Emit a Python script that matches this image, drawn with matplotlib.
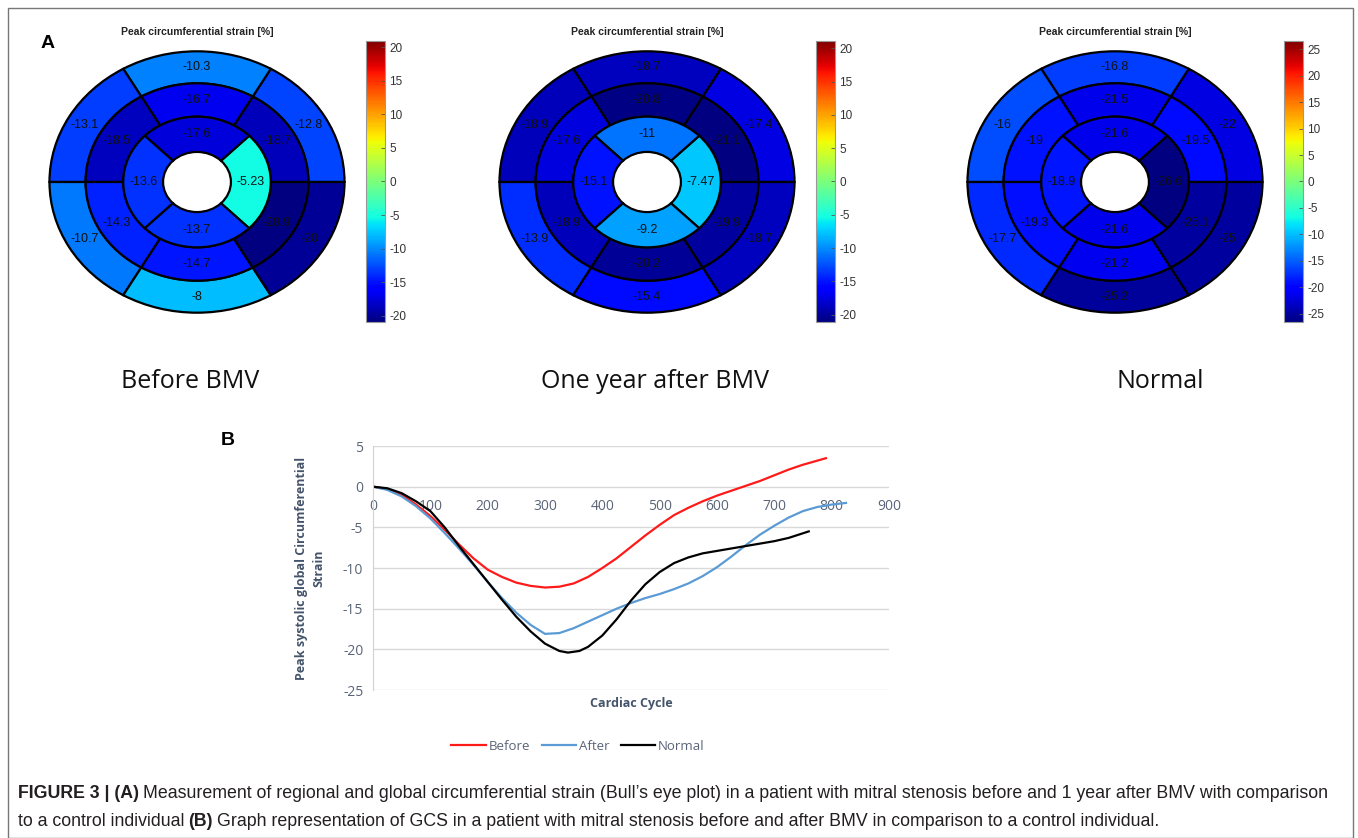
import numpy as np
import matplotlib.pyplot as plt
from matplotlib import cm, colors
from matplotlib.patches import Wedge, Rectangle

plt.rcParams['font.family'] = ['Liberation Sans', 'DejaVu Sans']
plt.rcParams['axes.unicode_minus'] = False

W, H = 1358, 838

# bull's eye values, segments counter-clockwise starting at 3 o'clock
# outer / mid rings: [upper-right, top, upper-left, lower-left, bottom, lower-right]
# inner ring: [right, top, left, bottom]
before_outer = [-12.8, -10.3, -13.1, -10.7, -8, -20]
before_mid = [-18.7, -16.7, -18.5, -14.3, -14.7, -20.9]
before_inner = [-5.23, -17.6, -13.6, -13.7]

after_outer = [-17.4, -18.7, -18.9, -13.9, -15.4, -18.7]
after_mid = [-21.1, -20.8, -17.6, -18.9, -20.2, -19.9]
after_inner = [-7.47, -11, -15.1, -9.2]

normal_outer = [-22, -16.8, -16, -17.7, -25.2, -25]
normal_mid = [-19.5, -21.5, -19, -19.3, -21.2, -25.1]
normal_inner = [-26.6, -21.6, -18.9, -21.6]

panel_names = ['Before BMV', 'One year after BMV', 'Normal']
cbar_ticks = [list(range(-20, 21, 5)), list(range(-20, 21, 5)), list(range(-25, 26, 5))]

# global circumferential strain curves
x_before = [0, 25, 50, 75, 100, 125, 150, 175, 200, 225, 250, 275, 300, 325, 350, 375, 400, 425,
            450, 475, 500, 525, 550, 575, 600, 625, 650, 675, 700, 725, 750, 775, 790]
gcs_before = [0, -0.3, -1.0, -2.2, -3.6, -5.3, -7.1, -8.8, -10.2, -11.1, -11.8, -12.2, -12.4, -12.3,
              -11.9, -11.1, -10.0, -8.8, -7.4, -6.0, -4.7, -3.5, -2.6, -1.8, -1.1, -0.5, 0.1, 0.7,
              1.4, 2.1, 2.7, 3.2, 3.5]

x_after = [0, 25, 50, 75, 100, 125, 150, 175, 200, 225, 250, 275, 300, 325, 350, 375, 400, 425,
           450, 475, 500, 525, 550, 575, 600, 625, 650, 675, 700, 725, 750, 775, 800, 825]
gcs_after = [0, -0.4, -1.2, -2.4, -3.9, -5.7, -7.6, -9.6, -11.7, -13.7, -15.5, -17.0, -18.1, -18.0,
             -17.4, -16.6, -15.8, -15.0, -14.3, -13.7, -13.2, -12.6, -11.9, -11.0, -9.9, -8.6,
             -7.2, -5.9, -4.8, -3.8, -3.0, -2.5, -2.2, -2.0]

x_normal = [0, 25, 50, 75, 100, 125, 150, 175, 200, 225, 250, 275, 300, 325, 340, 360, 375, 400,
            425, 450, 475, 500, 525, 550, 575, 600, 625, 650, 675, 700, 725, 760]
gcs_normal = [0, -0.2, -0.8, -1.8, -3.0, -5.0, -7.3, -9.5, -11.7, -13.9, -16.0, -17.8, -19.3, -20.2,
              -20.4, -20.2, -19.7, -18.3, -16.3, -14.0, -12.0, -10.5, -9.4, -8.7, -8.2, -7.9, -7.6,
              -7.3, -7.0, -6.7, -6.3, -5.5]


def box(x0, y0, x1, y1):
    return [x0 / W, 1 - y1 / H, (x1 - x0) / W, (y1 - y0) / H]


def bullseye(ax, outer, mid, inner, vmax):
    norm = colors.Normalize(-vmax, vmax)
    cmap = plt.get_cmap('jet')
    rings = [(outer, 0.755, 1.0, 0), (mid, 0.5, 0.755, 0), (inner, 0.23, 0.5, -45)]
    for vals, r0, r1, start in rings:
        step = 360 / len(vals)
        for i, v in enumerate(vals):
            t1 = start + i * step
            ax.add_patch(Wedge((0, 0), r1, t1, t1 + step, width=r1 - r0,
                               facecolor=cmap(norm(v)), edgecolor='black', lw=1.6))
            a = np.deg2rad(t1 + step / 2)
            rm = (r0 + r1) / 2
            ax.text(rm * np.cos(a), rm * np.sin(a), '{:g}'.format(v), ha='center', va='center',
                    fontsize=9, color='#111111')
    ax.set_xlim(-1.01, 1.01)
    ax.set_ylim(-1.01, 1.01)
    ax.axis('off')
    return norm


fig = plt.figure(figsize=(W / 100, H / 100), dpi=100)
fig.patches.append(Rectangle((8 / W, 0), (1353 - 8) / W, 1 - 8 / H, transform=fig.transFigure,
                             fill=False, edgecolor='#777777', lw=1))

data = [(before_outer, before_mid, before_inner),
        (after_outer, after_mid, after_inner),
        (normal_outer, normal_mid, normal_inner)]
centers = [197, 647, 1115]
label_x = [190, 655, 1160]
for k, (o, m, i) in enumerate(data):
    cx = centers[k]
    ax = fig.add_axes(box(cx - 149, 50, cx + 149, 314))
    vmax = max(abs(v) for v in o + m + i)
    norm = bullseye(ax, o, m, i, vmax)
    fig.text(cx / W, 1 - 32 / H, 'Peak circumferential strain [%]', ha='center', va='center',
             fontsize=7.5, fontweight='bold', color='#222222')
    cax = fig.add_axes(box(cx + 169, 41, cx + 188, 322))
    cb = fig.colorbar(cm.ScalarMappable(norm=norm, cmap='jet'), cax=cax)
    cb.set_ticks(cbar_ticks[k])
    cb.outline.set_edgecolor('#999999')
    cb.outline.set_linewidth(0.8)
    cax.tick_params(direction='in', length=3, width=0.6, labelsize=8.5, colors='#555555',
                    labelcolor='#333333', pad=3)
    fig.text(label_x[k] / W, 1 - 381 / H, panel_names[k], ha='center', va='center',
             fontsize=18, family='Open Sans', color='#111111')

fig.text(48 / W, 1 - 43 / H, 'A', ha='center', va='center', fontsize=14, fontweight='bold')
fig.text(228 / W, 1 - 440 / H, 'B', ha='center', va='center', fontsize=14, fontweight='bold')

# panel B line chart
tick_col = '#5a6478'
title_col = '#44546a'
ax = fig.add_axes(box(373, 446, 889, 690))
ax.plot(x_before, gcs_before, color='#ff1a1a', lw=1.6, label='Before')
ax.plot(x_after, gcs_after, color='#5b9bd5', lw=1.6, label='After')
ax.plot(x_normal, gcs_normal, color='black', lw=1.6, label='Normal')
ax.set_xlim(0, 900)
ax.set_ylim(-25, 5)
ax.set_xticks(range(0, 901, 100))
ax.set_yticks(range(-25, 6, 5))
ax.grid(axis='y', color='#d9d9d9', lw=1)
ax.set_axisbelow(True)
for s in ['top', 'right']:
    ax.spines[s].set_visible(False)
ax.spines['left'].set_color('#c9d2e0')
ax.spines['bottom'].set_position(('data', 0))
ax.spines['bottom'].set_visible(False)
ax.tick_params(length=0, labelsize=10, labelcolor=tick_col)
ax.tick_params(axis='x', pad=9)
ax.tick_params(axis='y', pad=7)
for t in ax.get_xticklabels() + ax.get_yticklabels():
    t.set_family('Open Sans')
ax.set_ylabel('Peak systolic global Circumferential\nStrain', fontsize=9, fontweight='bold',
              family='Open Sans', color=title_col, linespacing=1.5)
ax.yaxis.set_label_coords(-0.092, 0.5)
fig.text(631 / W, 1 - 703 / H, 'Cardiac Cycle', ha='center', va='center', fontsize=9,
         fontweight='bold', family='Open Sans', color=title_col)
leg = ax.legend(loc='center', bbox_to_anchor=(578 / W, 1 - 746 / H), bbox_transform=fig.transFigure,
                ncol=3, frameon=False, handlelength=2.6, handletextpad=0.2, columnspacing=0.9,
                prop={'family': 'Open Sans', 'size': 9.5})
for t in leg.get_texts():
    t.set_color(tick_col)

# caption with bold parts
cap_size = 12.8
cap_col = '#231f20'
r = fig.canvas.get_renderer()


def run(pieces, y):
    x = 18 / W
    for txt, bold in pieces:
        t = fig.text(x, 1 - y / H, txt, ha='left', va='center', fontsize=cap_size, color=cap_col,
                     fontweight='bold' if bold else 'normal')
        x = t.get_window_extent(r).x1 / W + 4 / W


run([('FIGURE 3 | (A)', True),
     ("Measurement of regional and global circumferential strain (Bull\u2019s eye plot) in a patient with "
      "mitral stenosis before and 1 year after BMV with comparison", False)], 793)
run([('to a control individual', False), ('(B)', True),
     ('Graph representation of GCS in a patient with mitral stenosis before and after BMV in '
      'comparison to a control individual.', False)], 821)

fig.savefig('out.png', dpi=100)
